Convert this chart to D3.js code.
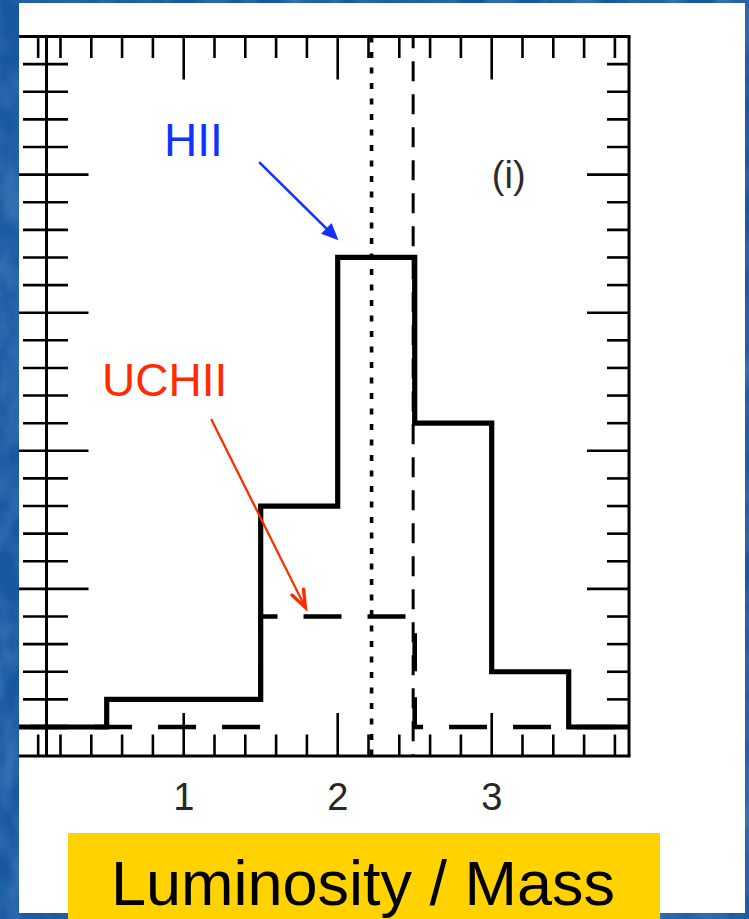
<!DOCTYPE html>
<html>
<head>
<meta charset="utf-8">
<script src="https://cdn.jsdelivr.net/npm/d3@7"></script>
<style>
  html, body { margin: 0; padding: 0; background: #1759a1; }
  svg { display: block; }
</style>
</head>
<body>
<svg id="chart" width="749" height="919"></svg>
<script>
// Histogram bins (log luminosity-to-mass) and counts per bin
const binEdges    = [-0.5, 0, 0.5, 1, 1.5, 2, 2.5, 3, 3.5, 4];
const hiiCounts   = [0, 0, 1, 1, 8, 17, 11, 2, 0];
const uchiiCounts = [0, 0, 0, 0, 4, 4, 0, 0, 0];

// Median markers: HII (dotted) and UCHII (dashed)
const medianValues = [2.22, 2.49];

// Axis ticks and labels
const xMajorTicks = [1, 2, 3];
const xTickLabels = ["1", "2", "3"];
const xMinorTicks = [0.055, 0.2, 0.4, 0.6, 0.8, 1.2, 1.4, 1.6, 1.8, 2.2, 2.4, 2.6, 2.8, 3.2, 3.4, 3.6, 3.8];
const yMajorTicks = [5, 10, 15, 20];
const yMinorTicks = [1, 2, 3, 4, 6, 7, 8, 9, 11, 12, 13, 14, 16, 17, 18, 19, 21, 22, 23, 24];

const panelLabel = "(i)";
const axisTitle = "Luminosity / Mass";

// Callouts: label anchor and arrow from/to, in data units
const callouts = [
  { text: "HII",   label: [0.872, 20.68], from: [1.49, 20.45], to: [2.005, 17.62] },
  { text: "UCHII", label: [0.47, 12.0],   from: [1.178, 11.15], to: [1.79, 4.33] }
];

const W = 749, H = 919;
const svg = d3.select("#chart");

// ---- backdrop: mottled blue slide background ----
const defs = svg.append("defs");
const tex = defs.append("filter").attr("id", "mottle").attr("x", 0).attr("y", 0).attr("width", 1).attr("height", 1);
tex.append("feTurbulence").attr("type", "fractalNoise").attr("baseFrequency", "0.035 0.02").attr("numOctaves", 3).attr("seed", 4).attr("result", "n");
tex.append("feColorMatrix").attr("in", "n").attr("type", "matrix")
  .attr("values", "0 0 0 0 0.30  0 0 0 0 0.55  0 0 0 0 0.85  0 0 0 0.55 -0.18");
svg.append("rect").attr("width", W).attr("height", H).attr("fill", "#1657a0");
svg.append("rect").attr("width", W).attr("height", H).attr("filter", "url(#mottle)");

// white figure panel
const panel = { x0: 19, x1: 745, y0: 3, y1: 913 };
svg.append("rect")
  .attr("x", panel.x0).attr("y", panel.y0)
  .attr("width", panel.x1 - panel.x0).attr("height", panel.y1 - panel.y0)
  .attr("fill", "#ffffff");

// ---- scales ----
const x = d3.scaleLinear().domain([0, 3]).range([29.7, 491.7]);
const y = d3.scaleLinear().domain([0, 25]).range([727, 36.5]);

const frame = { left: 46.5, right: 629, top: y(25), bottom: y(-1.05) };

defs.append("clipPath").attr("id", "plotClip")
  .append("rect")
  .attr("x", panel.x0).attr("y", frame.top)
  .attr("width", frame.right - panel.x0).attr("height", frame.bottom - frame.top);

const plot = svg.append("g").attr("clip-path", "url(#plotClip)");

// ---- ticks ----
const tickW = 2.6;
const minorLen = 21.5, majorLen = 42;

// top and bottom axes (ticks point inward)
function xTicks(vals, len) {
  plot.selectAll(null).data(vals).enter().append("line")
    .attr("x1", d => x(d)).attr("x2", d => x(d))
    .attr("y1", frame.top).attr("y2", frame.top + len)
    .attr("stroke", "#000").attr("stroke-width", tickW);
  plot.selectAll(null).data(vals).enter().append("line")
    .attr("x1", d => x(d)).attr("x2", d => x(d))
    .attr("y1", frame.bottom).attr("y2", frame.bottom - len)
    .attr("stroke", "#000").attr("stroke-width", tickW);
}
xTicks(xMinorTicks, minorLen);
xTicks(xMajorTicks, majorLen + 1);

// left axis: ticks on both sides; right axis: inward ticks
function yTicks(vals, lenL, lenR, lenRight) {
  plot.selectAll(null).data(vals).enter().append("line")
    .attr("x1", frame.left - lenL).attr("x2", frame.left + lenR)
    .attr("y1", d => y(d)).attr("y2", d => y(d))
    .attr("stroke", "#000").attr("stroke-width", tickW);
  plot.selectAll(null).data(vals).enter().append("line")
    .attr("x1", frame.right - lenRight).attr("x2", frame.right)
    .attr("y1", d => y(d)).attr("y2", d => y(d))
    .attr("stroke", "#000").attr("stroke-width", tickW);
}
yTicks(yMinorTicks, 23.5, minorLen, minorLen + 0.5);
yTicks(yMajorTicks, 30, majorLen, majorLen);

// ---- median lines ----
plot.append("line")
  .attr("x1", x(medianValues[0])).attr("x2", x(medianValues[0]))
  .attr("y1", frame.top).attr("y2", frame.bottom)
  .attr("stroke", "#000").attr("stroke-width", 3.6)
  .attr("stroke-dasharray", "6,9.5");
plot.append("line")
  .attr("x1", x(medianValues[1])).attr("x2", x(medianValues[1]))
  .attr("y1", frame.top).attr("y2", frame.bottom)
  .attr("stroke", "#000").attr("stroke-width", 3)
  .attr("stroke-dasharray", "20,13").attr("stroke-dashoffset", 8.3);

// ---- histograms (step outlines) ----
const stepLine = d3.line()
  .x(d => x(d[0])).y(d => y(d[1]))
  .curve(d3.curveStepAfter);
const stepPoints = counts => counts.map((c, i) => [binEdges[i], c])
  .concat([[binEdges[binEdges.length - 1], counts[counts.length - 1]]]);

plot.append("path")
  .attr("d", stepLine(stepPoints(uchiiCounts)))
  .attr("fill", "none").attr("stroke", "#000").attr("stroke-width", 4.6)
  .attr("stroke-dasharray", "38,26").attr("stroke-dashoffset", -13.3);

plot.append("path")
  .attr("d", stepLine(stepPoints(hiiCounts)))
  .attr("fill", "none").attr("stroke", "#000").attr("stroke-width", 5.2)
  .attr("stroke-linejoin", "miter");

// ---- frame ----
const frameG = svg.append("g").attr("stroke", "#000").attr("stroke-width", 3).attr("fill", "none");
frameG.append("line").attr("x1", panel.x0).attr("x2", frame.right + 1.5).attr("y1", frame.top).attr("y2", frame.top);
frameG.append("line").attr("x1", panel.x0).attr("x2", frame.right + 1.5).attr("y1", frame.bottom).attr("y2", frame.bottom);
frameG.append("line").attr("x1", frame.left).attr("x2", frame.left).attr("y1", frame.top).attr("y2", frame.bottom);
frameG.append("line").attr("x1", frame.right).attr("x2", frame.right).attr("y1", frame.top).attr("y2", frame.bottom);

// ---- tick labels ----
svg.selectAll(null).data(xMajorTicks).enter().append("text")
  .attr("x", d => x(d)).attr("y", 810)
  .attr("text-anchor", "middle")
  .attr("font-family", "Liberation Sans, Arial, Helvetica, sans-serif")
  .attr("font-size", 38).attr("fill", "#262626")
  .text((d, i) => xTickLabels[i]);

// panel label
svg.append("text")
  .attr("x", x(3.0) + 17).attr("y", 188)
  .attr("text-anchor", "middle")
  .attr("font-family", "Liberation Sans, Arial, Helvetica, sans-serif")
  .attr("font-size", 38).attr("fill", "#2b2b2b")
  .text(panelLabel);

// ---- callouts ----
const calloutColors = ["#1233ff", "#ff2a00"];
callouts.forEach((c, i) => {
  const col = calloutColors[i];
  svg.append("text")
    .attr("x", x(c.label[0])).attr("y", y(c.label[1]))
    .attr("font-family", "Liberation Sans, Arial, Helvetica, sans-serif")
    .attr("font-size", 46).attr("fill", col)
    .text(c.text);

  const x1 = x(c.from[0]), y1 = y(c.from[1]), x2 = x(c.to[0]), y2 = y(c.to[1]);
  const ang = Math.atan2(y2 - y1, x2 - x1);
  const headLen = i === 0 ? 17 : 17;
  const headHalf = i === 0 ? 7.5 : 6.5;
  const bx = x2 - headLen * Math.cos(ang), by = y2 - headLen * Math.sin(ang);
  const px = -Math.sin(ang) * headHalf, py = Math.cos(ang) * headHalf;

  if (i === 0) {
    svg.append("line")
      .attr("x1", x1).attr("y1", y1).attr("x2", bx + 2 * Math.cos(ang)).attr("y2", by + 2 * Math.sin(ang))
      .attr("stroke", col).attr("stroke-width", 2.6);
    svg.append("path")
      .attr("d", `M${x2},${y2}L${bx + px},${by + py}L${bx - px},${by - py}Z`)
      .attr("fill", col);
  } else {
    svg.append("line")
      .attr("x1", x1).attr("y1", y1).attr("x2", x2).attr("y2", y2)
      .attr("stroke", col).attr("stroke-width", 2.2);
    svg.append("path")
      .attr("d", `M${bx + px},${by + py}L${x2},${y2}L${bx - px},${by - py}`)
      .attr("fill", "none").attr("stroke", col).attr("stroke-width", 3.4)
      .attr("stroke-linecap", "round").attr("stroke-linejoin", "miter");
  }
});

// ---- axis title box ----
svg.append("rect")
  .attr("x", 68).attr("y", 833).attr("width", 592).attr("height", H - 833)
  .attr("fill", "#ffd200");
svg.append("text")
  .attr("x", 363).attr("y", 905)
  .attr("text-anchor", "middle")
  .attr("font-family", "Liberation Sans, Arial, Helvetica, sans-serif")
  .attr("font-size", 63).attr("fill", "#000")
  .text(axisTitle);
</script>
</body>
</html>
